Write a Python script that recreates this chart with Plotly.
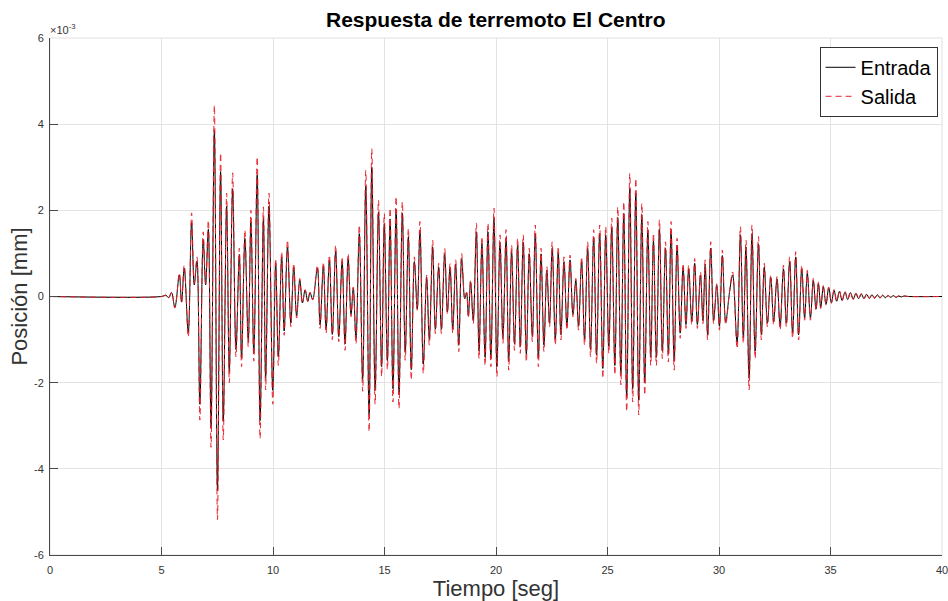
import plotly.graph_objects as go

# Extrema of the response (time in s, position in units of 1e-3 mm)
t_ext = [0.0, 5.0, 5.2, 5.32, 5.45, 5.60, 5.80, 5.90, 6.02, 6.20, 6.35, 6.47, 6.59, 6.72, 6.87, 6.98,
         7.10, 7.22, 7.37, 7.51, 7.65, 7.77, 7.92, 8.04, 8.19, 8.34, 8.49, 8.59, 8.74, 8.89, 9.01, 9.14,
         9.29, 9.42, 9.57, 9.67, 9.82, 9.99, 10.12, 10.24, 10.39, 10.5, 10.65, 10.8, 10.93, 11.06, 11.2,
         11.32, 11.44, 11.56, 11.66, 11.78, 11.99, 12.11, 12.26, 12.38, 12.53, 12.66, 12.81, 12.95, 13.1,
         13.23, 13.37, 13.5, 13.6, 13.72, 13.87, 14.02, 14.16, 14.31, 14.43, 14.58, 14.73, 14.87, 14.99,
         15.13, 15.25, 15.38, 15.52, 15.65, 15.8, 15.93, 16.07, 16.2, 16.34, 16.47, 16.59, 16.74, 16.89,
         17.01, 17.16, 17.28, 17.43, 17.55, 17.7, 17.82, 17.94, 18.06, 18.19, 18.33, 18.46, 18.6, 18.68,
         18.76, 18.86, 18.98, 19.12, 19.24, 19.37, 19.51, 19.64, 19.77, 19.91, 20.04, 20.18, 20.31, 20.45,
         20.57, 20.7, 20.83, 20.97, 21.09, 21.22, 21.36, 21.49, 21.63, 21.76, 21.9, 22.02, 22.15, 22.28,
         22.4, 22.52, 22.66, 22.79, 22.91, 23.05, 23.18, 23.32, 23.45, 23.58, 23.7, 23.84, 23.97, 24.11,
         24.24, 24.38, 24.51, 24.65, 24.79, 24.92, 25.06, 25.19, 25.33, 25.46, 25.6, 25.73, 25.86, 26.0,
         26.13, 26.27, 26.4, 26.54, 26.67, 26.81, 26.94, 27.06, 27.19, 27.33, 27.46, 27.6, 27.73, 27.85,
         27.99, 28.12, 28.26, 28.39, 28.52, 28.64, 28.78, 28.91, 29.03, 29.17, 29.28, 29.38, 29.49, 29.63,
         29.76, 29.9, 30.02, 30.15, 30.3, 30.47, 30.61, 30.81, 30.96, 31.09, 31.21, 31.35, 31.48, 31.62,
         31.77, 31.9, 32.03, 32.17, 32.32, 32.45, 32.6, 32.74, 32.89, 33.02, 33.17, 33.3, 33.44, 33.57,
         33.71, 33.84, 33.96, 34.1, 34.23, 34.35, 34.46, 34.56, 34.68, 34.8, 34.92, 35.04, 35.16, 35.28,
         35.4, 35.52, 35.65, 35.77, 35.89, 36.02, 36.14, 36.26, 36.38, 36.5, 36.62, 36.74, 36.86, 36.98,
         37.1, 37.22, 37.34, 37.46, 37.58, 37.7, 37.82, 37.94, 38.06, 38.18, 38.3, 38.5, 40.0]

salida = [0, 0, 0.03, -0.03, 0.1, -0.27, 0.55, -0.15, 0.73, -0.94, 1.94, 0.3, 0.92, -2.87, 1.5, 0.3,
          1.77, -3.5, 4.44, -5.18, 3.33, -3.33, 2.4, -2.0, 2.87, -1.4, 1.12, -1.63, 1.54, -1.17, 2.0, -1.5,
          3.24, -3.3, 2.08, -2.17, 2.4, -2.5, 0.88, -1.6, 1.04, -0.9, 1.31, -0.7, 0.77, -0.5, 0.42,
          -0.16, 0.16, -0.12, 0.1, -0.08, 0.73, -0.74, 0.8, -0.86, 0.96, -1.0, 1.19, -1.05, 0.92,
          -1.25, 1.0, -0.47, 0.22, -1.1, 1.66, -2.2, 2.93, -3.14, 3.43, -2.5, 2.24, -1.86, 1.93,
          -1.7, 2.05, -2.45, 2.32, -2.6, 2.2, -1.48, 1.58, -1.94, 0.92, -0.32, 1.74, -1.79, 0.5,
          -1.13, 1.31, -0.86, 0.77, -0.86, 1.12, -0.4, 0.77, -0.86, 0.85, -1.28, 1.0, -0.05, 0.1,
          -0.5, 0.38, -0.63, 1.7, -1.44, 1.39, -1.6, 1.7, -1.63, 2.05, -1.86, 1.43, -1.09, 1.55,
          -1.71, 1.19, -1.25, 1.35, -1.32, 1.43, -1.52, 1.12, -1.05, 1.66, -1.63, 1.12, -1.28, 0.69,
          -0.7, 1.27, -1.13, 1.16, -1.01, 0.92, -0.78, 0.96, -0.47, 0.42, -0.78, 0.92, -1.13, 1.27,
          -1.4, 1.55, -1.55, 1.66, -1.9, 1.62, -1.32, 1.82, -1.82, 2.08, -2.05, 2.2, -2.67, 2.86,
          -2.45, 2.74, -2.75, 2.16, -2.29, 1.74, -1.6, 1.47, -1.6, 1.78, -1.44, 1.27, -1.52, 1.74,
          -1.71, 1.35, -0.97, 0.77, -0.74, 0.73, -0.66, 0.88, -0.74, 0.57, -0.63, 0.85, -1.01, 1.27,
          -0.63, 0.3, -0.78, 1.08, -0.66, 0.1, 0.57, -1.21, 1.62, -1.09, 1.31, -2.17, 1.66, -1.44,
          1.39, -1.01, 0.77, -0.7, 0.5, -0.66, 0.46, -0.78, 0.73, -0.7, 0.92, -0.97, 1.04, -1.01,
          0.73, -0.55, 0.61, -0.55, 0.42, -0.32, 0.34, -0.28, 0.26, -0.2, 0.22, -0.16, 0.16, -0.12,
          0.14, -0.1, 0.12, -0.08, 0.1, -0.07, 0.08, -0.06, 0.07, -0.05, 0.06, -0.05, 0.05, -0.04,
          0.04, -0.04, 0.03, -0.03, 0.03, -0.02, 0.02, -0.02, 0.02, -0.01, 0.01, 0, 0]

entrada = [0, 0, 0.03, -0.03, 0.09, -0.25, 0.5, -0.13, 0.66, -0.84, 1.72, 0.27, 0.82, -2.5, 1.32, 0.27,
           1.56, -3.05, 3.86, -4.5, 2.9, -2.9, 2.1, -1.75, 2.5, -1.23, 0.98, -1.43, 1.35, -1.03, 1.75, -1.32,
           2.82, -2.88, 1.82, -1.9, 2.1, -2.18, 0.78, -1.4, 0.92, -0.8, 1.15, -0.62, 0.68, -0.45, 0.38,
           -0.15, 0.15, -0.11, 0.09, -0.07, 0.65, -0.66, 0.71, -0.76, 0.85, -0.88, 1.05, -0.93, 0.82,
           -1.1, 0.88, -0.42, 0.2, -0.97, 1.46, -1.93, 2.56, -2.75, 3.0, -2.18, 1.96, -1.63, 1.69,
           -1.49, 1.8, -2.14, 2.03, -2.27, 1.93, -1.3, 1.39, -1.7, 0.81, -0.29, 1.53, -1.57, 0.45,
           -1.0, 1.15, -0.76, 0.68, -0.76, 0.99, -0.36, 0.68, -0.76, 0.75, -1.13, 0.88, -0.05, 0.09,
           -0.45, 0.34, -0.56, 1.5, -1.27, 1.22, -1.41, 1.5, -1.43, 1.8, -1.63, 1.26, -0.96, 1.36,
           -1.5, 1.05, -1.1, 1.19, -1.16, 1.26, -1.34, 0.99, -0.93, 1.46, -1.43, 0.99, -1.13, 0.61,
           -0.62, 1.12, -1.0, 1.02, -0.89, 0.81, -0.69, 0.85, -0.42, 0.37, -0.69, 0.81, -1.0, 1.12,
           -1.23, 1.36, -1.36, 1.46, -1.67, 1.43, -1.16, 1.6, -1.6, 1.83, -1.8, 1.93, -2.34, 2.5,
           -2.15, 2.4, -2.41, 1.9, -2.0, 1.53, -1.41, 1.29, -1.41, 1.56, -1.27, 1.12, -1.34, 1.53,
           -1.5, 1.19, -0.85, 0.68, -0.65, 0.64, -0.58, 0.77, -0.65, 0.5, -0.56, 0.75, -0.89, 1.12,
           -0.56, 0.27, -0.69, 0.95, -0.58, 0.09, 0.5, -1.07, 1.43, -0.96, 1.15, -1.9, 1.46, -1.27,
           1.22, -0.89, 0.68, -0.62, 0.45, -0.58, 0.41, -0.69, 0.64, -0.62, 0.81, -0.85, 0.92, -0.89,
           0.64, -0.49, 0.54, -0.49, 0.37, -0.29, 0.3, -0.25, 0.23, -0.18, 0.2, -0.14, 0.14, -0.11,
           0.12, -0.09, 0.1, -0.07, 0.09, -0.06, 0.07, -0.05, 0.06, -0.05, 0.05, -0.04, 0.04, -0.04,
           0.04, -0.03, 0.03, -0.03, 0.02, -0.02, 0.02, -0.02, 0.01, -0.01, 0.01, 0, 0]

x_ticks = [0, 5, 10, 15, 20, 25, 30, 35, 40]
y_ticks = [-6, -4, -2, 0, 2, 4, 6]

FONT = "Liberation Sans, Arial, Helvetica, sans-serif"
AX = "#333333"

fig = go.Figure()
fig.add_trace(go.Scatter(x=t_ext, y=entrada, mode="lines", name="Entrada",
                         line=dict(color="black", width=1, shape="spline", smoothing=1)))
fig.add_trace(go.Scatter(x=t_ext, y=salida, mode="lines", name="Salida",
                         line=dict(color="#e8202a", width=1, shape="spline", smoothing=1, dash="6px,4px")))

axis_common = dict(showgrid=True, gridcolor="#e3e3e3", gridwidth=1, zeroline=False,
                   showline=True, linecolor="#4a4a4a", linewidth=1, mirror=False,
                   ticks="inside", ticklen=8, tickcolor="#4a4a4a", tickwidth=1,
                   ticklabeloverflow="allow", automargin=False,
                   tickfont=dict(family=FONT, size=11, color=AX))

fig.update_xaxes(range=[0, 40], tickvals=x_ticks, ticktext=[str(v) for v in x_ticks],
                 ticklabelstandoff=5,
                 title=dict(text="Tiempo [seg]", font=dict(family=FONT, size=22, color=AX), standoff=8),
                 **axis_common)
fig.update_yaxes(range=[-6, 6], tickvals=y_ticks, ticktext=[str(v) for v in y_ticks],
                 ticklabelstandoff=3,
                 title=dict(text="Posición [mm]", font=dict(family=FONT, size=22, color=AX), standoff=0),
                 **axis_common)

fig.add_shape(type="rect", xref="paper", yref="paper", x0=0, y0=0, x1=1, y1=1,
              line=dict(color="#e0e0e0", width=1), layer="below")

fig.add_annotation(text="×10<sup>-3</sup>", xref="paper", yref="paper", x=0, y=1,
                   xanchor="left", yanchor="bottom", showarrow=False, xshift=-2, yshift=0,
                   font=dict(family=FONT, size=11, color=AX))

fig.update_layout(
    width=948, height=601,
    margin=dict(l=50, r=6, t=38, b=46, autoexpand=False),
    paper_bgcolor="white", plot_bgcolor="white",
    title=dict(text="<b>Respuesta de terremoto El Centro</b>", x=0.523, xanchor="center",
               y=1 - 20 / 601, yanchor="middle", yref="container",
               font=dict(family=FONT, size=21, color="black")),
    legend=dict(x=0.995, y=0.983, xanchor="right", yanchor="top",
                bgcolor="white", bordercolor="#333333", borderwidth=1,
                font=dict(family=FONT, size=20, color="black"),
                itemwidth=30, tracegroupgap=0),
    showlegend=True,
)

fig.write_html("out.html")
